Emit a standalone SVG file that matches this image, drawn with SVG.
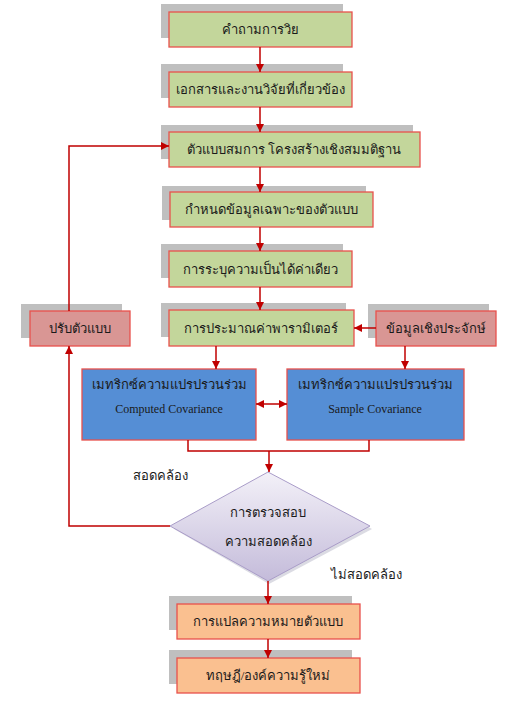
<svg xmlns="http://www.w3.org/2000/svg" width="530" height="715" viewBox="0 0 530 715">
<defs>
<style>
.sh{fill:#bfbfbf}
.g{fill:#c3d69b;stroke:#e8514c;stroke-width:1.3}
.r{fill:#d99694;stroke:#e8514c;stroke-width:1.3}
.b{fill:#558ed5;stroke:#e8514c;stroke-width:1.3}
.o{fill:#fac090;stroke:#e8514c;stroke-width:1.3}
.t{font-family:"Liberation Serif","Noto Sans",serif;font-size:13px;fill:#1a1a1a;text-anchor:middle}
.e{font-family:"Liberation Serif",serif;font-size:12px;fill:#1a1a1a;text-anchor:middle}
.l{fill:none;stroke:#c00000;stroke-width:1.5}
</style>
<marker id="a" viewBox="0 0 10 10" refX="10" refY="5" markerWidth="8" markerHeight="8" markerUnits="userSpaceOnUse" orient="auto-start-reverse"><path d="M0,0 L10,5 L0,10 z" fill="#c00000"/></marker>
<linearGradient id="dg" x1="0" y1="0" x2="0" y2="1"><stop offset="0" stop-color="#f3f1f8"/><stop offset="1" stop-color="#c4bbda"/></linearGradient>
</defs>
<g id="n1"><rect class="sh" x="161" y="4" width="182" height="34"/><rect class="g" x="169" y="12" width="183" height="35"/><text class="t" x="260" y="34">คำถามการวิย</text></g>
<g id="n2"><rect class="sh" x="161" y="64" width="182" height="34"/><rect class="g" x="169" y="72" width="183" height="35"/><text class="t" x="260" y="94">เอกสารและงานวิจัยที่เกี่ยวข้อง</text></g>
<g id="n3"><rect class="sh" x="161" y="125" width="252" height="34"/><rect class="g" x="169" y="132" width="251" height="35"/><text class="t" x="294" y="154">ตัวแบบสมการ โครงสร้างเชิงสมมติฐาน</text></g>
<g id="n4"><rect class="sh" x="162" y="186" width="204" height="34"/><rect class="g" x="170" y="192" width="203" height="35"/><text class="t" x="271" y="214">กำหนดข้อมูลเฉพาะของตัวแบบ</text></g>
<g id="n5"><rect class="sh" x="161" y="244" width="182" height="34"/><rect class="g" x="169" y="251" width="183" height="36"/><text class="t" x="260" y="274">การระบุความเป็นได้ค่าเดียว</text></g>
<g id="n6"><rect class="sh" x="161" y="303" width="185" height="34"/><rect class="g" x="169" y="310" width="185" height="36"/><text class="t" x="261" y="333">การประมาณค่าพารามิเตอร์</text></g>
<g id="n7"><rect class="sh" x="21" y="304" width="101" height="34"/><rect class="r" x="30" y="311" width="100" height="35"/><text class="t" x="80" y="333">ปรับตัวแบบ</text></g>
<g id="n8"><rect class="sh" x="368" y="304" width="121" height="34"/><rect class="r" x="376" y="311" width="120" height="35"/><text class="t" x="436" y="333">ข้อมูลเชิงประจักษ์</text></g>
<g id="n9"><rect class="b" x="82" y="369" width="174" height="71"/><text class="t" x="169" y="389">เมทริกซ์ความแปรปรวนร่วม</text><text class="e" x="169" y="413">Computed Covariance</text></g>
<g id="n10"><rect class="b" x="287" y="369" width="177" height="71"/><text class="t" x="375" y="389">เมทริกซ์ความแปรปรวนร่วม</text><text class="e" x="375" y="413">Sample Covariance</text></g>
<g id="n11"><path d="M269,474 L372,529 L269,584 L174,529 Z" fill="#b8b8c8" opacity="0.5"/><path d="M268,472 L370,526 L268,581 L170,526 Z" fill="url(#dg)" stroke="#a99cc8" stroke-width="1"/><text class="t" x="268" y="517">การตรวจสอบ</text><text class="t" x="268" y="546">ความสอดคล้อง</text></g>
<g id="n12"><rect class="sh" x="169" y="596" width="183" height="34"/><rect class="o" x="177" y="604" width="183" height="35"/><text class="t" x="268" y="626">การแปลความหมายตัวแบบ</text></g>
<g id="n13"><rect class="sh" x="169" y="650" width="183" height="34"/><rect class="o" x="177" y="658" width="183" height="35"/><text class="t" x="268" y="680">ทฤษฎี/องค์ความรู้ใหม่</text></g>
<text class="t" x="160" y="480">สอดคล้อง</text>
<text class="t" x="366" y="579">ไม่สอดคล้อง</text>
<g id="connectors">
<path class="l" d="M260,47 V72" marker-end="url(#a)"/>
<path class="l" d="M260,107 V132" marker-end="url(#a)"/>
<path class="l" d="M260,167 V192" marker-end="url(#a)"/>
<path class="l" d="M260,227 V251" marker-end="url(#a)"/>
<path class="l" d="M260,287 V310" marker-end="url(#a)"/>
<path class="l" d="M376,328 H354" marker-end="url(#a)"/>
<path class="l" d="M216,346 V369" marker-end="url(#a)"/>
<path class="l" d="M405,346 V369" marker-end="url(#a)"/>
<path class="l" d="M256,404 H287" marker-start="url(#a)" marker-end="url(#a)"/>
<path class="l" d="M188,440 V451 H369 V440"/>
<path class="l" d="M269,451 V472" marker-end="url(#a)"/>
<path class="l" d="M170,526 H69 V346" marker-end="url(#a)"/>
<path class="l" d="M69,311 V146 H169" marker-end="url(#a)"/>
<path class="l" d="M268,581 V604" marker-end="url(#a)"/>
<path class="l" d="M268,639 V658" marker-end="url(#a)"/>
</g>
</svg>
